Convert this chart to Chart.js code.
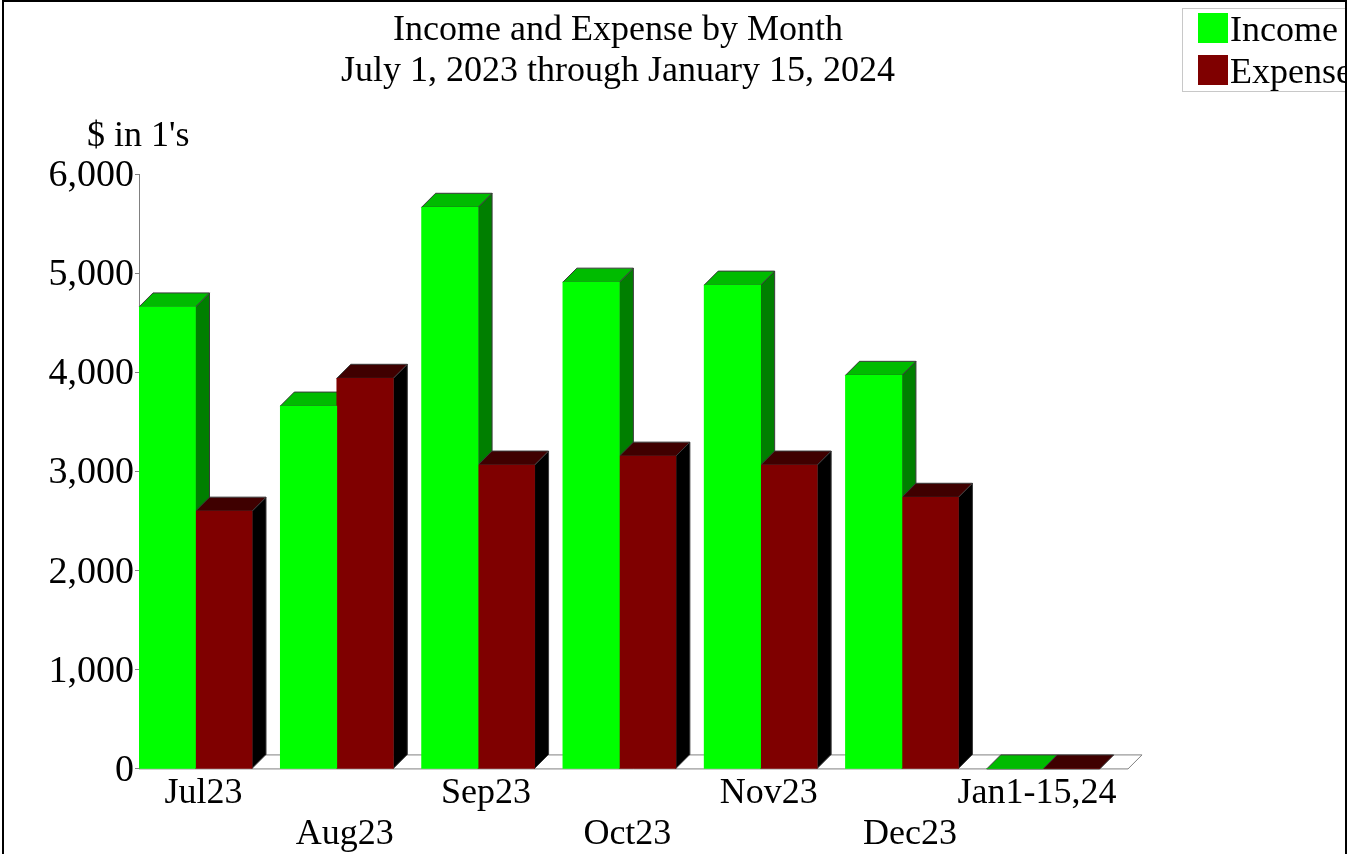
<!DOCTYPE html>
<html>
<head>
<meta charset="utf-8">
<title>Income and Expense by Month</title>
<script src="https://cdn.jsdelivr.net/npm/chart.js@4/dist/chart.umd.js"></script>
<style>
  html, body { margin: 0; background: #fff; overflow: hidden; }
  #frame {
    position: absolute; left: 2px; top: 0; width: 1341px; height: 852px;
    border: solid #000; border-width: 2px 2px 0 2px; overflow: hidden;
  }
  canvas { display: block; }
</style>
</head>
<body>
<div id="frame"><canvas id="chart" width="1341" height="857"></canvas></div>
<script>
/* Values */
const months = ["Jul23", "Aug23", "Sep23", "Oct23", "Nov23", "Dec23", "Jan1-15,24"];
const income = [4660, 3660, 5665, 4910, 4880, 3970, 0];
const expense = [2600, 3940, 3065, 3155, 3065, 2740, 0];
const titleLines = ["Income and Expense by Month", "July 1, 2023 through January 15, 2024"];
const unitLabel = "$ in 1's";

const SERIF = '"Liberation Serif", "Times New Roman", serif';
const DEPTH = 14;
const OUTLINE = "#3a3a3a";
const colors = {
  Income: { front: "#00ff00", top: "#00bb00", side: "#007f00" },
  Expense: { front: "#7f0000", top: "#3f0000", side: "#000000" }
};

function poly(ctx, pts, fill, stroke) {
  ctx.beginPath();
  pts.forEach((p, i) => i ? ctx.lineTo(p[0], p[1]) : ctx.moveTo(p[0], p[1]));
  ctx.closePath();
  ctx.fillStyle = fill;
  ctx.fill();
  ctx.strokeStyle = stroke;
  ctx.lineWidth = 1;
  ctx.stroke();
}

/* ---------- 3D look: floor, then top + side faces, all behind the bar fronts ---------- */
const depthFaces = {
  id: "depthFaces",
  beforeDatasetsDraw(chart) {
    const { ctx, scales: { x, y } } = chart;
    const y0 = y.getPixelForValue(0);
    ctx.save();
    poly(ctx, [[x.left, y0], [x.right, y0], [x.right + DEPTH, y0 - DEPTH], [x.left + DEPTH, y0 - DEPTH]], "#fff", "#808080");
    chart.data.datasets.forEach((ds, i) => {
      const c = colors[ds.label];
      chart.getDatasetMeta(i).data.forEach(bar => {
        const l = bar.x - bar.width / 2, r = bar.x + bar.width / 2;
        if (bar.base > bar.y) {
          poly(ctx, [[r, bar.y], [r + DEPTH, bar.y - DEPTH], [r + DEPTH, bar.base - DEPTH], [r, bar.base]], c.side, OUTLINE);
        }
        poly(ctx, [[l, bar.y], [r, bar.y], [r + DEPTH, bar.y - DEPTH], [l + DEPTH, bar.y - DEPTH]], c.top, OUTLINE);
      });
    });
    ctx.restore();
  }
};

/* ---------- Unit label + legend box (runs off the right edge like the original) ---------- */
const annotations = {
  id: "annotations",
  // the title is centred a bit left of the plot
  afterLayout(chart) { chart.titleBlock.right = 1228; },
  afterDraw(chart) {
    const { ctx } = chart;
    ctx.save();
    ctx.font = "36px " + SERIF;
    ctx.textBaseline = "middle";
    ctx.fillStyle = "#000";
    ctx.textAlign = "left";
    ctx.fillText(unitLabel, 83, 135);

    ctx.strokeStyle = "#c8c8c8";
    ctx.lineWidth = 1;
    ctx.strokeRect(1178.5, 6.5, 300, 83);
    chart.data.datasets.forEach((ds, i) => {
      const top = 11 + i * 42;
      ctx.fillStyle = colors[ds.label].front;
      ctx.fillRect(1194, top, 30, 30);
      ctx.fillStyle = "#000";
      ctx.fillText(ds.label, 1226, top + 19);
    });
    ctx.restore();
  }
};

new Chart(document.getElementById("chart"), {
  type: "bar",
  data: {
    datasets: [
      { label: "Income", data: income.map((v, i) => ({ x: i, y: v })), backgroundColor: colors.Income.front },
      { label: "Expense", data: expense.map((v, i) => ({ x: i, y: v })), backgroundColor: colors.Expense.front }
    ]
  },
  options: {
    responsive: false,
    animation: false,
    layout: { padding: { left: 0, right: 217, top: 8, bottom: 0 } },
    datasets: { bar: { barThickness: 56.5, borderWidth: 0 } },
    plugins: {
      legend: { display: false },
      tooltip: { enabled: false },
      title: {
        display: true,
        text: titleLines,
        color: "#000",
        font: { family: SERIF, size: 36, weight: "normal", lineHeight: 1.14 },
        padding: { top: 0, bottom: 82 }
      }
    },
    scales: {
      x: {
        type: "linear",
        offset: false,
        min: -0.4,
        max: 6.6,
        grid: { display: false, drawTicks: false, offset: false },
        border: { color: "#808080" },
        // the last, wide label sits a little left of its group
        afterBuildTicks: scale => { scale.ticks = months.map((_, i) => ({ value: Math.min(i, 5.9) })); },
        afterFit: scale => { scale.paddingLeft = 0; scale.paddingRight = 0; },
        ticks: {
          autoSkip: false,
          maxRotation: 0,
          padding: 4,
          labelOffset: 8,
          color: "#000",
          font: { family: SERIF, size: 36, lineHeight: 1.14 },
          // every second label drops to a second row
          callback: (value, index) => index % 2 ? ["", months[index]] : [months[index], ""]
        }
      },
      y: {
        min: 0,
        max: 6000,
        afterFit: scale => { scale.width = 135; },
        grid: { drawOnChartArea: false, color: "#808080", tickLength: 4 },
        border: { color: "#808080" },
        ticks: {
          stepSize: 1000,
          padding: 1,
          labelOffset: 2,
          color: "#000",
          font: { family: SERIF, size: 38 }
        }
      }
    }
  },
  plugins: [depthFaces, annotations]
});
</script>
</body>
</html>
